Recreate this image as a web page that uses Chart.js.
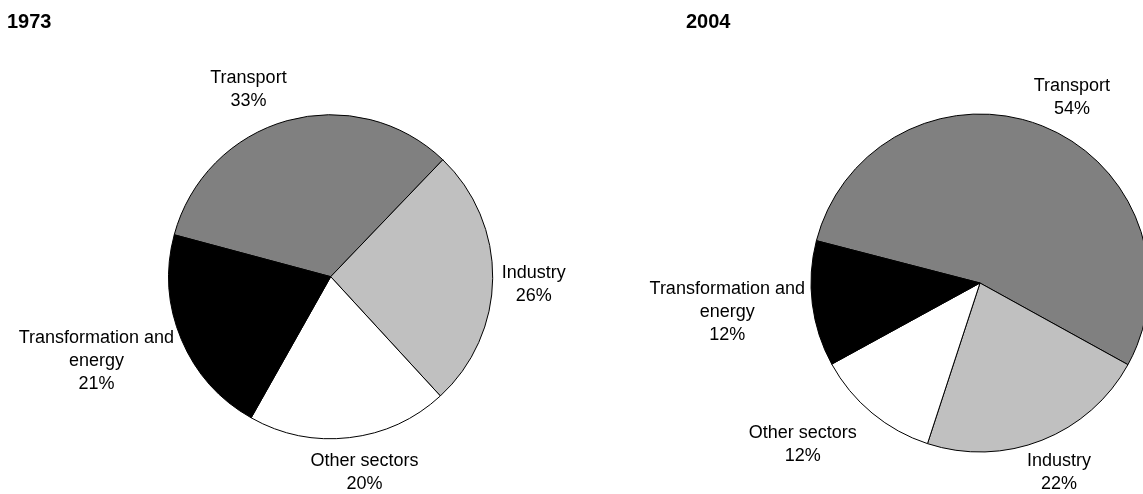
<!DOCTYPE html>
<html>
<head>
<meta charset="utf-8">
<script src="https://cdn.jsdelivr.net/npm/chart.js@4.4.1/dist/chart.umd.min.js"></script>
<style>
  html, body { margin: 0; padding: 0; background: #fff; }
  body { width: 1143px; height: 494px; position: relative; overflow: hidden; }
  canvas { position: absolute; top: 0; }
  #pie1973 { left: 0; }
  #pie2004 { left: 571px; }
</style>
</head>
<body>
<canvas id="pie1973" width="571" height="494"></canvas>
<canvas id="pie2004" width="572" height="494"></canvas>
<script>
const categories = ['Transport', 'Industry', 'Other sectors', 'Transformation and energy'];
const share1973 = [33, 26, 20, 21];
const share2004 = [54, 22, 12, 12];
const years = ['1973', '2004'];
const sliceColors = ['#808080', '#c0c0c0', '#ffffff', '#000000'];

const FONT = '"Liberation Sans", Arial, sans-serif';
const LINE = 23;
const GAP = 9;

function wrap(ctx, text, maxWidth) {
  const words = text.split(' ');
  const lines = [];
  let cur = '';
  words.forEach(w => {
    const test = cur ? cur + ' ' + w : w;
    if (cur && ctx.measureText(test).width > maxWidth) {
      lines.push(cur);
      cur = w;
    } else {
      cur = test;
    }
  });
  lines.push(cur);
  return lines;
}

// labels outside the slices + the year heading
const sliceLabels = {
  id: 'sliceLabels',
  afterDatasetsDraw(chart, args, opts) {
    const ctx = chart.ctx;
    const meta = chart.getDatasetMeta(0);
    const values = chart.data.datasets[0].data;
    ctx.save();
    ctx.fillStyle = '#000';
    ctx.font = '18px ' + FONT;
    ctx.textAlign = 'center';
    ctx.textBaseline = 'middle';
    meta.data.forEach((arc, i) => {
      const p = arc.getProps(['x', 'y', 'startAngle', 'endAngle', 'outerRadius'], true);
      const mid = (p.startAngle + p.endAngle) / 2;
      const dx = Math.cos(mid);
      const dy = Math.sin(mid);
      const lines = wrap(ctx, chart.data.labels[i], 165).concat(values[i] + '%');
      const w = Math.max(...lines.map(l => ctx.measureText(l).width));
      const h = (lines.length - 1) * LINE + 13;
      const nudge = opts.nudge[i] || [0, 0];
      const cx = p.x + (p.outerRadius + GAP) * dx + w / 2 * dx + nudge[0];
      const cy = p.y + (p.outerRadius + GAP) * dy + h / 2 * dy + nudge[1];
      lines.forEach((l, k) => {
        ctx.fillText(l, cx, cy + (k - (lines.length - 1) / 2) * LINE);
      });
    });
    ctx.font = 'bold 20px ' + FONT;
    ctx.textAlign = 'left';
    ctx.textBaseline = 'alphabetic';
    ctx.fillText(opts.title, opts.titleX, 28);
    ctx.restore();
  }
};

function makePie(id, values, cfg) {
  return new Chart(document.getElementById(id), {
    type: 'pie',
    data: {
      labels: categories,
      datasets: [{
        data: values,
        backgroundColor: sliceColors,
        borderColor: '#000',
        borderWidth: 1,
        clip: false
      }]
    },
    options: {
      responsive: false,
      animation: false,
      events: [],
      radius: cfg.radius,
      rotation: cfg.rotation,
      layout: { padding: cfg.padding },
      plugins: {
        legend: { display: false },
        tooltip: { enabled: false },
        sliceLabels: { title: cfg.title, titleX: cfg.titleX, nudge: cfg.nudge }
      }
    },
    plugins: [sliceLabels]
  });
}

makePie('pie1973', share1973, {
  title: years[0],
  titleX: 7,
  radius: 162,
  rotation: -75,
  padding: { left: 168, right: 77.6, top: 114.7, bottom: 55.3 },
  nudge: [[-26, -5], [0, 6], [8, 8], [-5, 7]]
});

makePie('pie2004', share2004, {
  title: years[1],
  titleX: 115,
  radius: 169,
  rotation: -75.5,
  padding: { left: 246, right: 0, top: 100, bottom: 28 },
  nudge: [[12, -3], [2, 7], [-29, 11], [1, 3]]
});
</script>
</body>
</html>
